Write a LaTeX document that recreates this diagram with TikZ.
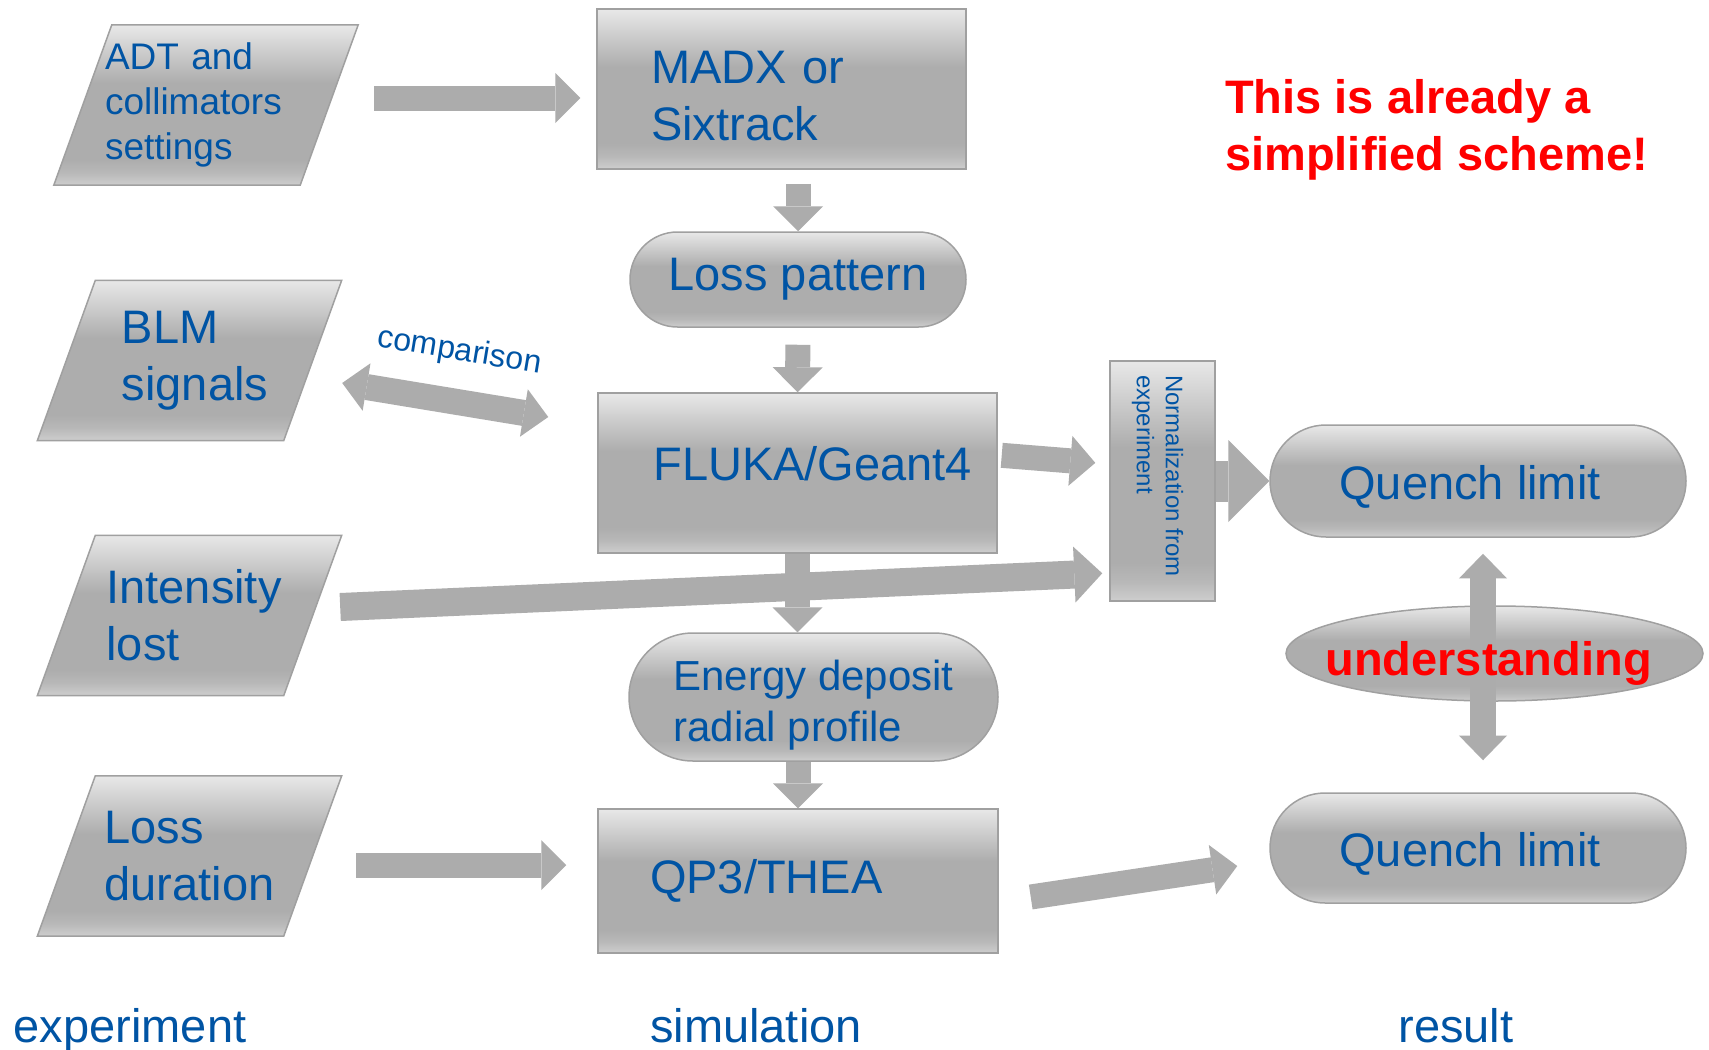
\documentclass[tikz,border=0pt]{standalone}
\usepackage{fontspec}
\setmainfont{Liberation Sans}
\usepackage{tikz}
\usetikzlibrary{shapes,arrows.meta,backgrounds}
\definecolor{txtblue}{RGB}{0,84,164}
\definecolor{arrowgray}{RGB}{172,172,172}
\definecolor{edgegray}{RGB}{160,160,160}
\definecolor{shA}{RGB}{173,173,173}
\definecolor{shB}{RGB}{184,184,184}
\definecolor{shC}{RGB}{206,206,206}
\definecolor{shD}{RGB}{232,232,232}
\pgfdeclareverticalshading{boxshade}{100bp}{color(0bp)=(shC); color(25bp)=(shC); color(29bp)=(shB); color(33bp)=(shA); color(57bp)=(shA); color(75bp)=(shD); color(100bp)=(shD)}
\newcommand\fbig{\fontsize{47}{57}\selectfont}
\newcommand\fmed{\fontsize{42}{51}\selectfont}
\newcommand\fadt{\fontsize{37}{45}\selectfont}
\newcommand\fcmp{\fontsize{32}{38}\selectfont}
\newcommand\fsmall{\fontsize{24}{29}\selectfont}
\def\col#1#2#3{\node[col] (#1) at (#2,1042) {#3}}
\def\slab#1{\path[base] ([xshift=29pt]#1.north west) -- ([xshift=29pt]#1.north east) -- ([xshift=-29pt]#1.south east) -- ([xshift=-29pt]#1.south west) -- cycle;}
\tikzstyle{base}=[draw=edgegray,line width=1.5pt,shade,shading=boxshade,text=txtblue,inner sep=0pt,font=\fbig]
\tikzstyle{proc}=[base,rectangle,align=left]
\tikzstyle{term}=[base,rounded rectangle]
\tikzstyle{data}=[rectangle,text=txtblue,inner sep=0pt,font=\fbig,minimum width=246pt,minimum height=160pt,align=left]
\tikzstyle{note}=[text=red,font=\fbig\bfseries,align=left,inner sep=0pt]
\tikzstyle{col}=[text=txtblue,font=\fbig,anchor=base,inner sep=0pt]
\tikzstyle{flow}=[draw=arrowgray,line width=25pt,-{Triangle[length=0pt 1,width=0pt 2,line width=0pt]}]
\tikzstyle{twoway}=[draw=arrowgray,line width=26pt,{Triangle[length=0pt 0.95,width=0pt 1.85,line width=0pt]}-{Triangle[length=0pt 0.95,width=0pt 1.85,line width=0pt]}]

\begin{document}
\begin{tikzpicture}[x=1pt,y=-1pt]
  \useasboundingbox (0,0) rectangle (1709,1050);

  % experiment
  \node[data,font=\fadt,text width=202pt,inner xsep=22pt] (adt) at (206,105) {ADT and\\collimators\\settings};
  \node[data] (blm) at (189.5,360.5) {\hspace*{11pt}BLM\\\hspace*{11pt}signals};
  \node[data] (intens) at (189.5,615.5) {\hspace*{9pt}Intensity\\\hspace*{9pt}lost};
  \node[data] (lossdur) at (189.5,856) {Loss\\duration};

  % simulation
  \node[proc,minimum height=160pt,text width=261pt,inner xsep=54pt] (madx) at (781.5,89) {\rule{0pt}{46pt}MADX or\\Sixtrack};
  \node[term,minimum width=336pt,minimum height=95pt] (losspat) at (798,279.5) {Loss pattern};
  \node[proc,minimum height=160pt,text width=349pt,inner xsep=25pt,align=right] (fluka) at (797.5,473) {\rule[-19pt]{0pt}{19pt}FLUKA/Geant4};
  \node[term,minimum width=369pt,minimum height=128pt,font=\fmed,align=left] (energy) at (813.5,697) {\rule{0pt}{47pt}Energy deposit\\radial profile};
  \node[proc,minimum height=144pt,text width=296pt,inner xsep=52pt] (qp3) at (798,881) {QP3/THEA};

  % result
  \node[proc,minimum width=105pt,minimum height=240pt] (norm) at (1162.5,481)
    {\rotatebox{-90}{\parbox{212pt}{\fsmall\raggedright Normalization from\\experiment}}\hspace*{10pt}};
  \node[term,minimum width=416pt,minimum height=112pt] (q1) at (1478,481) {\rule{0pt}{46pt}Quench limit\hspace*{16pt}};
  \node[base,ellipse,minimum width=417pt,minimum height=95pt] (und) at (1494.5,653.5) {};
  \node[term,minimum width=416pt,minimum height=110pt] (q2) at (1478,848) {\rule{0pt}{46pt}Quench limit\hspace*{16pt}};

  \node[note,anchor=north west] (remark) at (1225,79) {This is already a\\simplified scheme!};

  \begin{pgfonlayer}{background}
    \fill[white] (0,0) rectangle (1709,1050);
    \slab{adt} \slab{blm} \slab{intens} \slab{lossdur}
  \end{pgfonlayer}

  % connectors
  \draw[flow,shorten <=45pt,shorten >=16pt] ([yshift=7pt]adt.east) -- ([yshift=7pt]adt.east -| madx.west);
  \draw[flow,shorten <=14pt] (losspat.north |- madx.south) -- (losspat.north);
  \draw[flow,shorten <=17pt] (losspat.south) -- (fluka.north);
  \draw[twoway] ([xshift=29.5pt,yshift=-22.5pt]blm.east) -- node[sloped,above=22pt,pos=0.53,text=txtblue,font=\fcmp,inner sep=0pt] (cmp) {comparison} ([xshift=-49pt,yshift=56pt]fluka.west);
  \draw[flow,shorten <=4pt,shorten >=14pt] ([yshift=18pt]fluka.east) -- ([yshift=17pt]norm.west);
  \draw[flow,line width=28pt,shorten >=7pt] ([xshift=27.5pt,yshift=8.5pt]intens.east) -- ([yshift=-92pt]norm.west);
  \draw[flow] (fluka.south) -- (fluka.south |- energy.north);
  \draw[flow] (qp3.north |- energy.south) -- (qp3.north);
  \draw[flow,shorten <=43.5pt,shorten >=31pt] ([yshift=-9pt]lossdur.east) -- ([yshift=-9pt]lossdur.east -| qp3.west);
  \draw[flow,line width=41pt] (norm.east) -- (q1.west);
  \draw[twoway,shorten <=16pt,shorten >=32pt] ([xshift=5pt]q1.south) -- ([xshift=5pt]q2.north);
  \node[note,yshift=-10pt,xshift=-6pt] (undtxt) at (und) {understanding};
  \draw[flow] ([xshift=32pt,yshift=-16pt]qp3.east) -- ([xshift=-32pt,yshift=-18pt]q2.west);

  % columns
  \col{exp}{130}{experiment};
  \col{sim}{756}{simulation};
  \col{res}{1456}{result};
\end{tikzpicture}
\end{document}
